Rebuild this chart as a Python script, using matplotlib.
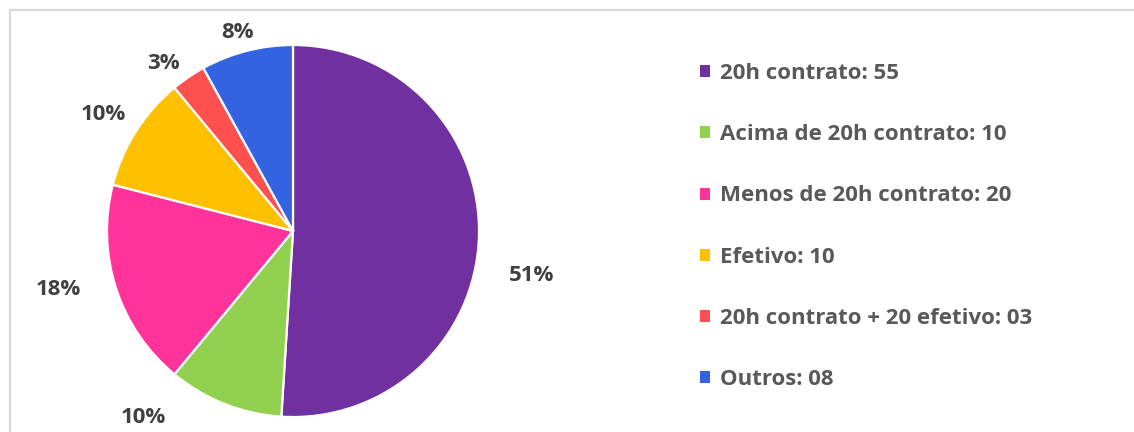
import matplotlib.pyplot as plt
import matplotlib.patches as mpatches
import numpy as np

# categories and values (percent labels shown on the chart)
categorias = ['20h contrato: 55', 'Acima de 20h contrato: 10', 'Menos de 20h contrato: 20',
              'Efetivo: 10', '20h contrato + 20 efetivo: 03', 'Outros: 08']
percentuais = [51, 10, 18, 10, 3, 8]
cores = ['#7030A0', '#92D050', '#FF3399', '#FFC000', '#FF5050', '#3363E0']

# label offsets (in radius units) as placed in the original
pos_rotulos = [(1.285, -0.237), (-0.806, -1.005), (-1.263, -0.317),
               (-1.022, 0.624), (-0.694, 0.903), (-0.301, 1.065)]

plt.rcParams['font.family'] = ['Open Sans', 'DejaVu Sans']

W, H = 1134, 432
fig = plt.figure(figsize=(W / 100, H / 100), dpi=100)

# light frame of the chart area
frame = mpatches.Rectangle((9.5 / W, -0.1), 1.2, 1 - 10.5 / H + 0.1, transform=fig.transFigure,
                           facecolor='none', edgecolor='#D9D9D9', linewidth=1.6)
fig.patches.append(frame)

cx, cy, r = 293, 231, 186
ax = fig.add_axes([(cx - r) / W, (H - cy - r) / H, 2 * r / W, 2 * r / H])
wedges, _ = ax.pie(percentuais, colors=cores, startangle=90, counterclock=False,
                   radius=1, wedgeprops=dict(edgecolor='white', linewidth=1.6))
ax.set_xlim(-1, 1)
ax.set_ylim(-1, 1)
ax.set_aspect('equal')
ax.axis('off')

for p, (dx, dy) in zip(percentuais, pos_rotulos):
    ax.text(dx, dy, f'{p}%', ha='center', va='center', fontsize=16,
            fontweight='bold', color='#404040', clip_on=False)

leg = fig.legend(wedges, categorias, loc='upper left', bbox_to_anchor=(700 / W, 1 - 63 / H),
                 frameon=False, fontsize=16, handlelength=0.45, handleheight=0.45,
                 handletextpad=0.45, labelspacing=1.81, borderpad=0, borderaxespad=0)
for t in leg.get_texts():
    t.set_fontweight('bold')
    t.set_color('#595959')
for h in leg.legend_handles:
    h.set_edgecolor('none')

plt.savefig('out.png', dpi=100)
